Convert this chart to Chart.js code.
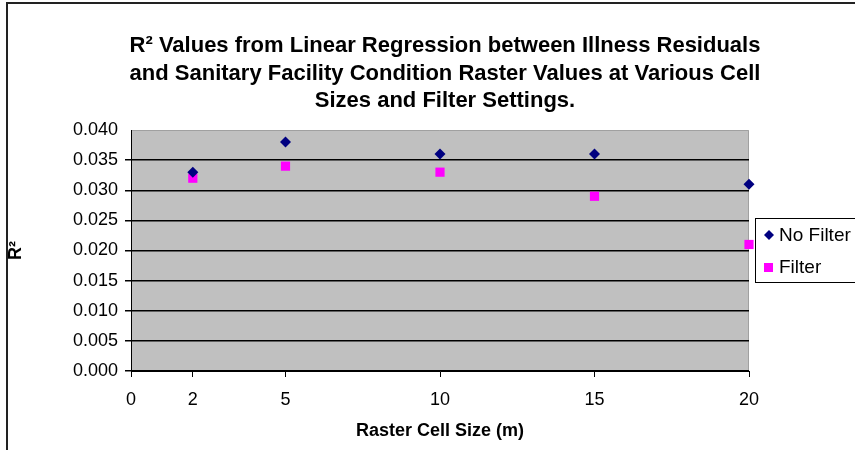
<!DOCTYPE html>
<html>
<head>
<meta charset="utf-8">
<script src="https://cdn.jsdelivr.net/npm/chart.js@4.4.0/dist/chart.umd.min.js"></script>
<style>
  html, body { margin: 0; padding: 0; background: #fff; }
  #wrap { width: 855px; height: 450px; position: relative; }
</style>
</head>
<body>
<div id="wrap"><canvas id="chart1" width="855" height="450"></canvas></div>
<script>
// data
const cellSizes = [2, 5, 10, 15, 20];
const noFilter = [0.033, 0.038, 0.036, 0.036, 0.031];
const withFilter = [0.032, 0.034, 0.033, 0.029, 0.021];
const xTickValues = [0, 2, 5, 10, 15, 20];
const titleLines = [
  'R\u00B2 Values from Linear Regression between Illness Residuals',
  'and Sanitary Facility Condition Raster Values at Various Cell',
  'Sizes and Filter Settings.'
];

const FONT = '"Liberation Sans", Arial, sans-serif';

function toPoints(ys) {
  return cellSizes.map((x, i) => ({ x: x, y: ys[i] }));
}

// grey plot area + frame + title + legend box
const excelLook = {
  id: 'excelLook',
  beforeDraw(chart) {
    const { ctx, chartArea: a } = chart;
    ctx.save();
    ctx.fillStyle = '#c0c0c0';
    ctx.fillRect(a.left, a.top, a.right - a.left, a.bottom - a.top);
    ctx.strokeStyle = '#a0a0a0';
    ctx.lineWidth = 1;
    ctx.beginPath();
    ctx.moveTo(a.left, a.top + 0.5);
    ctx.lineTo(a.right - 0.5, a.top + 0.5);
    ctx.lineTo(a.right - 0.5, a.bottom);
    ctx.stroke();
    ctx.restore();
  },
  afterDraw(chart) {
    const { ctx } = chart;
    ctx.save();
    // outer frame (top and left only visible)
    ctx.strokeStyle = '#222';
    ctx.lineWidth = 2;
    ctx.beginPath();
    ctx.moveTo(7, 450);
    ctx.lineTo(7, 3);
    ctx.lineTo(855, 3);
    ctx.stroke();

    // title
    ctx.fillStyle = '#000';
    ctx.font = 'bold 22px ' + FONT;
    ctx.textAlign = 'center';
    ctx.textBaseline = 'middle';
    titleLines.forEach((t, i) => ctx.fillText(t, 445, 46 + i * 27.5));

    // legend
    const lx = 755, ly = 218, lw = 110, lh = 64;
    ctx.fillStyle = '#fff';
    ctx.fillRect(lx, ly, lw, lh);
    ctx.strokeStyle = '#000';
    ctx.lineWidth = 1;
    ctx.strokeRect(lx + 0.5, ly + 0.5, lw, lh);
    ctx.font = '19px ' + FONT;
    ctx.textAlign = 'left';
    chart.data.datasets.forEach((ds, i) => {
      const cy = ly + 17 + i * 32;
      ctx.fillStyle = ds.backgroundColor;
      if (ds.pointStyle === 'rectRot') {
        ctx.beginPath();
        ctx.moveTo(769, cy - 5);
        ctx.lineTo(774, cy);
        ctx.lineTo(769, cy + 5);
        ctx.lineTo(764, cy);
        ctx.closePath();
        ctx.fill();
      } else {
        ctx.fillRect(764, cy - 4, 9, 9);
      }
      ctx.fillStyle = '#000';
      ctx.fillText(ds.label, 779, cy + 1);
    });
    ctx.restore();
  }
};

const ctx = document.getElementById('chart1').getContext('2d');
const chart1 = new Chart(ctx, {
  type: 'scatter',
  data: {
    datasets: [
      {
        label: 'No Filter',
        data: toPoints(noFilter),
        pointStyle: 'rectRot',
        radius: 5.5,
        backgroundColor: '#000080',
        borderColor: '#000080',
        borderWidth: 0,
        clip: false
      },
      {
        label: 'Filter',
        data: toPoints(withFilter),
        pointStyle: 'rect',
        radius: 6.5,
        backgroundColor: '#ff00ff',
        borderColor: '#ff00ff',
        borderWidth: 0,
        clip: false
      }
    ]
  },
  options: {
    responsive: false,
    animation: false,
    devicePixelRatio: 1,
    layout: { padding: { left: 0, right: 106, top: 130, bottom: 0 } },
    plugins: {
      legend: { display: false },
      title: { display: false },
      tooltip: { enabled: false }
    },
    scales: {
      x: {
        type: 'linear',
        min: 0,
        max: 20,
        afterFit: s => { s.height = 79; },
        afterBuildTicks: s => { s.ticks = xTickValues.map(v => ({ value: v })); },
        grid: { drawOnChartArea: false, drawTicks: true, tickLength: 6, color: '#000' },
        border: { color: '#000', width: 1 },
        ticks: { color: '#000', padding: 12, font: { family: FONT, size: 18 }, maxRotation: 0 },
        title: {
          display: true,
          text: 'Raster Cell Size (m)',
          color: '#000',
          font: { family: FONT, size: 18, weight: 'bold' },
          padding: { top: 0, bottom: 8 }
        }
      },
      y: {
        min: 0,
        max: 0.04,
        afterFit: s => { s.width = 131; },
        grid: {
          color: c => (c.tick && c.tick.value >= 0.04 ? 'rgba(0,0,0,0)' : '#000'),
          lineWidth: 1.5,
          tickLength: 6
        },
        border: { color: '#000', width: 1 },
        ticks: {
          stepSize: 0.005,
          color: '#000',
          padding: 7,
          font: { family: FONT, size: 18 },
          callback: v => v.toFixed(3)
        },
        title: {
          display: true,
          text: 'R\u00B2',
          color: '#000',
          font: { family: FONT, size: 18, weight: 'bold' },
          padding: { top: 5, bottom: 0 }
        }
      }
    }
  },
  plugins: [excelLook]
});
</script>
</body>
</html>
